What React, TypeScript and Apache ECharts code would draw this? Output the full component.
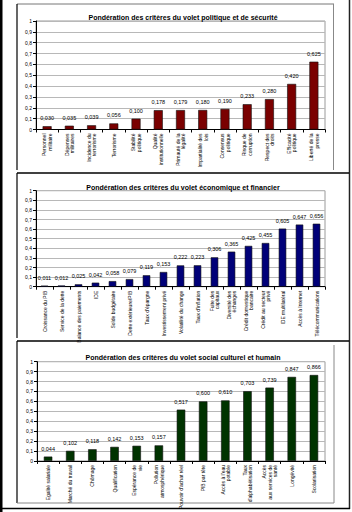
import React, { useEffect, useRef } from "react";
import * as echarts from "echarts";

const titles = [
  "Pondération des critères du volet politique et de sécurité",
  "Pondération des critères du volet économique et financier",
  "Pondération des critères du volet social culturel et humain",
];

const politiqueCategories = [
  "Personnel\nmilitaire",
  "Dépenses\nmilitaires",
  "Incidence du\nterrorisme",
  "Terrorisme",
  "Stabilité\npolitique",
  "Qualité\ninstitutionnelle",
  "Primauté de la\nlégalité",
  "Impartialité des\nlois",
  "Consensus\npolitique",
  "Risque de\ncorruption",
  "Respect des\ndroits",
  "Efficacité\npolitique",
  "Liberté de la\npresse",
];
const politiqueValues = [0.03, 0.035, 0.039, 0.056, 0.1, 0.178, 0.179, 0.18, 0.19, 0.233, 0.28, 0.42, 0.625];

const economiqueCategories = [
  "Croissance du PIB",
  "Service de la dette",
  "Balance des paiements",
  "IDE",
  "Solde budgétaire",
  "Dette extérieure/PIB",
  "Taux d'épargne",
  "Investissement privé",
  "Volatilité du change",
  "Taux d'inflation",
  "Fuite des\ncapitaux",
  "Diversité des\néchanges",
  "Crédit domestique\nbancaire",
  "Crédit au secteur\nprivé",
  "IDE multilatéral",
  "Accès à Internet",
  "Télécommunications",
];
const economiqueValues = [0.011, 0.012, 0.025, 0.042, 0.058, 0.079, 0.119, 0.153, 0.222, 0.223, 0.306, 0.365, 0.425, 0.455, 0.605, 0.647, 0.656];

const socialCategories = [
  "Egalité salariale",
  "Marché du travail",
  "Chômage",
  "Qualification",
  "Espérance de\nvie",
  "Pollution\natmosphérique",
  "Pouvoir d'achat réel",
  "PIB par tête",
  "Accès à l'eau\npotable",
  "Taux\nd'alphabétisation",
  "Accès\naux services de\nsanté",
  "Longévité",
  "Scolarisation",
];
const socialValues = [0.044, 0.102, 0.118, 0.142, 0.153, 0.157, 0.517, 0.6, 0.61, 0.703, 0.739, 0.847, 0.866];

const yTicks = { min: 0, max: 1, interval: 0.1 };

const FONT = "Liberation Sans, Arial, sans-serif";

const comma = (v: number, d: number) => v.toFixed(d).replace(".", ",");

export default function App() {
  const ref = useRef<HTMLDivElement>(null);
  useEffect(() => {
    if (!ref.current) return;
    const chart = echarts.init(ref.current, null, { renderer: "svg" });
    const grids = [
      { left: 36, top: 21, width: 289, height: 108.5 },
      { left: 36, top: 190.7, width: 289, height: 96 },
      { left: 37, top: 361.7, width: 288, height: 100 },
    ];
    const cats = [politiqueCategories, economiqueCategories, socialCategories];
    const vals = [politiqueValues, economiqueValues, socialValues];
    const colors = ["#7a0000", "#000078", "#003300"];
    const barW = [9, 7.5, 8.5];
    const titleTops = [9, 178.5, 348.5];

    chart.setOption({
      animation: false,
      backgroundColor: "#ffffff",
      title: titles.map((t, i) => ({
        text: t,
        left: 178,
        top: titleTops[i],
        textAlign: "center",
        textStyle: { fontFamily: FONT, fontSize: 7, fontWeight: "bold", color: "#000" },
      })),
      grid: grids.map((g) => ({
        ...g,
        show: true,
        borderColor: "#9a9a9a",
        borderWidth: 1,
        backgroundColor: "#fff",
      })),
      xAxis: cats.map((c, i) => ({
        type: "category",
        gridIndex: i,
        data: c,
        axisLine: { show: true, lineStyle: { color: "#000", width: 1 } },
        axisTick: { show: true, length: 3, lineStyle: { color: "#000" } },
        axisLabel: {
          interval: 0,
          rotate: 90,
          fontFamily: FONT,
          fontSize: 5,
          lineHeight: 5.6,
          color: "#000",
          margin: 4,
        },
      })),
      yAxis: cats.map((_, i) => ({
        type: "value",
        gridIndex: i,
        ...yTicks,
        axisLine: { show: true, lineStyle: { color: "#000", width: 1 } },
        axisTick: { show: true, length: 3, lineStyle: { color: "#000" } },
        splitLine: { show: true, lineStyle: { color: "#b8b8b8", width: 1 } },
        axisLabel: {
          fontFamily: FONT,
          fontSize: 5,
          color: "#000",
          margin: 4,
          formatter: (v: number) => (v === 0 ? "0" : v === 1 ? "1" : comma(v, 1)),
        },
      })),
      series: vals.map((v, i) => ({
        type: "bar",
        xAxisIndex: i,
        yAxisIndex: i,
        data: v,
        barWidth: barW[i],
        itemStyle: { color: colors[i], borderColor: "#111", borderWidth: 0.6 },
        label: {
          show: true,
          position: "top",
          distance: 5,
          fontFamily: FONT,
          fontSize: 5.5,
          color: "#000",
          formatter: (p: any) => comma(p.value, 3),
        },
      })),
      graphic: [
        { type: "rect", shape: { x: 0, y: 0, width: 2.5, height: 512 }, style: { fill: "#000" } },
        { type: "line", shape: { x1: 349.5, y1: 0, x2: 349.5, y2: 509 }, style: { stroke: "#222", lineWidth: 1.5 } },
        { type: "line", shape: { x1: 0, y1: 508.5, x2: 350, y2: 508.5 }, style: { stroke: "#000", lineWidth: 1.5 } },
        { type: "line", shape: { x1: 17, y1: 4, x2: 334, y2: 4 }, style: { stroke: "#777", lineWidth: 1 } },
        { type: "line", shape: { x1: 333.5, y1: 4, x2: 333.5, y2: 170 }, style: { stroke: "#888", lineWidth: 1 } },
        { type: "line", shape: { x1: 17, y1: 4, x2: 17, y2: 170 }, style: { stroke: "#000", lineWidth: 1.2 } },
        { type: "line", shape: { x1: 17, y1: 173, x2: 349, y2: 173 }, style: { stroke: "#000", lineWidth: 1.5 } },
        { type: "line", shape: { x1: 17, y1: 173, x2: 17, y2: 338 }, style: { stroke: "#000", lineWidth: 1.2 } },
        { type: "line", shape: { x1: 17, y1: 341, x2: 349, y2: 341 }, style: { stroke: "#000", lineWidth: 1.5 } },
        { type: "line", shape: { x1: 17, y1: 341, x2: 17, y2: 503 }, style: { stroke: "#000", lineWidth: 1.2 } },
        { type: "line", shape: { x1: 17, y1: 503, x2: 334, y2: 503 }, style: { stroke: "#888", lineWidth: 1 } },
        { type: "line", shape: { x1: 334, y1: 345, x2: 334, y2: 503 }, style: { stroke: "#888", lineWidth: 1 } },
      ],
    });
    return () => chart.dispose();
  }, []);
  return (
    <div
      ref={ref}
      style={{ position: "fixed", left: 0, top: 0, width: 352, height: 512 }}
    />
  );
}
